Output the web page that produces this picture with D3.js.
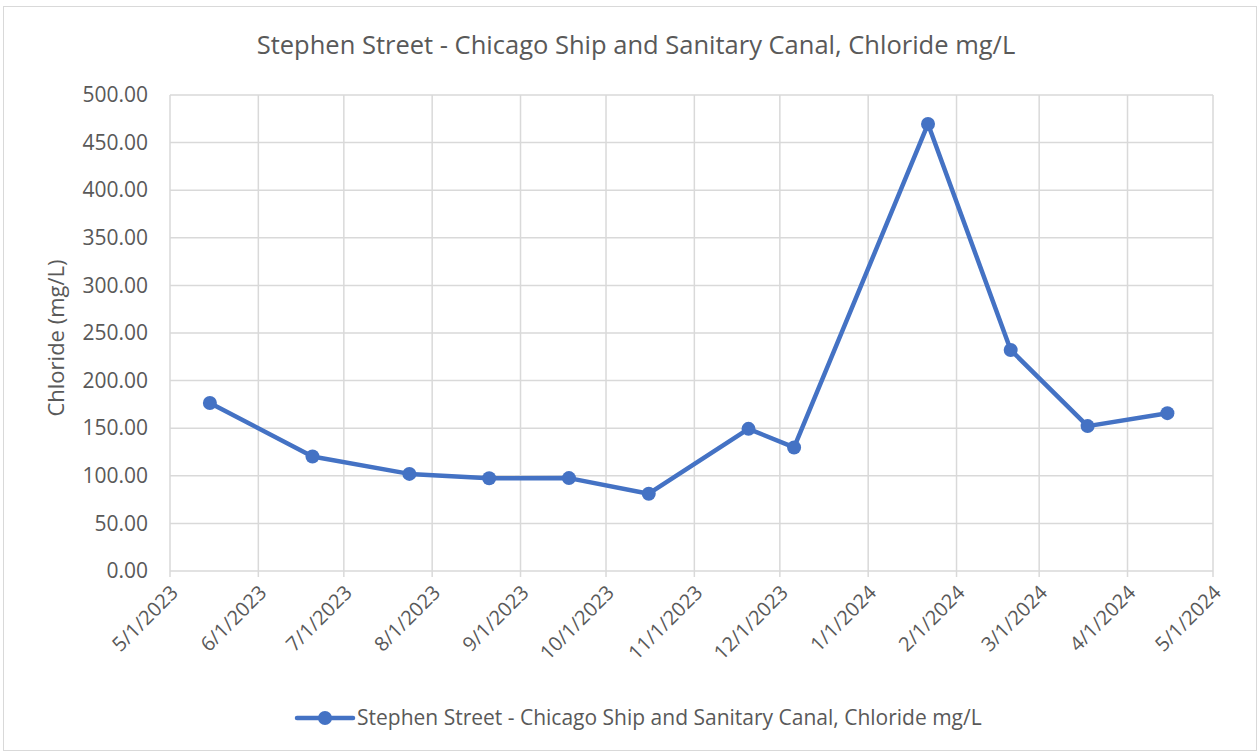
<!DOCTYPE html>
<html>
<head>
<meta charset="utf-8">
<script src="https://cdn.jsdelivr.net/npm/d3@7"></script>
<style>
  body { margin: 0; background: #fff; }
  text { font-family: "Open Sans", "Noto Sans", sans-serif; fill: #595959; }
</style>
</head>
<body>
<svg id="chart" width="1260" height="754"></svg>
<script>
var seriesName = "Stephen Street - Chicago Ship and Sanitary Canal, Chloride mg/L";
var sampleDates = ["2023-05-15", "2023-06-20", "2023-07-24", "2023-08-21", "2023-09-18", "2023-10-16",
                   "2023-11-20", "2023-12-06", "2024-01-22", "2024-02-20", "2024-03-18", "2024-04-15"];
var chloride = [176.5, 120.2, 102.0, 97.5, 97.6, 81.2, 149.3, 129.8, 469.6, 232.2, 152.2, 165.8];
var yTicks = [0, 50, 100, 150, 200, 250, 300, 350, 400, 450, 500];

var width = 1260;
var height = 754;
var plotLeft = 170, plotRight = 1213, plotTop = 95, plotBottom = 571;
var blue = "#4472C4";

var parse = d3.timeParse("%Y-%m-%d");
var data = sampleDates.map(function (d, i) { return { date: parse(d), value: chloride[i] }; });

var svg = d3.select("#chart");

// chart frame
svg.append("rect")
    .attr("x", 3.5).attr("y", 6.5)
    .attr("width", width - 7).attr("height", height - 10)
    .attr("fill", "#fff")
    .attr("stroke", "#d9d9d9");

var x = d3.scaleTime()
    .domain([new Date(2023, 4, 1), new Date(2024, 4, 1)])
    .range([plotLeft, plotRight]);

var y = d3.scaleLinear()
    .domain([0, 500])
    .range([plotBottom, plotTop]);

var monthTicks = d3.timeMonth.range(new Date(2023, 4, 1), new Date(2024, 4, 2));

// gridlines
svg.append("g")
    .selectAll("line")
    .data(yTicks)
    .enter().append("line")
    .attr("x1", plotLeft).attr("x2", plotRight)
    .attr("y1", function (d) { return y(d); })
    .attr("y2", function (d) { return y(d); })
    .attr("stroke", "#d9d9d9").attr("stroke-width", 1.5);

svg.append("g")
    .selectAll("line")
    .data(monthTicks)
    .enter().append("line")
    .attr("x1", function (d) { return x(d); })
    .attr("x2", function (d) { return x(d); })
    .attr("y1", plotTop).attr("y2", plotBottom + 6)
    .attr("stroke", "#d9d9d9").attr("stroke-width", 1.5);

// y axis labels
var yAxis = svg.append("g")
    .attr("transform", "translate(" + plotLeft + ",0)")
    .call(d3.axisLeft(y).tickValues(yTicks).tickSize(0).tickPadding(22)
        .tickFormat(d3.format(".2f")));
yAxis.select(".domain").remove();
yAxis.selectAll("text")
    .style("font-family", "'Open Sans', sans-serif")
    .style("font-size", "21px")
    .attr("fill", "#595959");

// x axis labels
var fmt = function (d) { return (d.getMonth() + 1) + "/" + d.getDate() + "/" + d.getFullYear(); };
var xAxis = svg.append("g")
    .attr("transform", "translate(0," + plotBottom + ")")
    .call(d3.axisBottom(x).tickValues(monthTicks).tickSize(0).tickFormat(fmt));
xAxis.select(".domain").remove();
xAxis.selectAll("text")
    .style("font-family", "'Open Sans', sans-serif")
    .style("font-size", "20px")
    .attr("fill", "#595959")
    .attr("text-anchor", "end")
    .attr("y", 0)
    .attr("dy", "0.35em")
    .attr("transform", "translate(4,18) rotate(-45)");

// title
svg.append("text")
    .attr("x", 636).attr("y", 54)
    .attr("text-anchor", "middle")
    .style("font-size", "25.5px")
    .text(seriesName);

// y axis title
svg.append("text")
    .attr("transform", "translate(64," + ((plotTop + plotBottom) / 2 + 5) + ") rotate(-90)")
    .attr("text-anchor", "middle")
    .style("font-size", "22px")
    .text("Chloride (mg/L)");

// line
var line = d3.line()
    .x(function (d) { return x(d.date); })
    .y(function (d) { return y(d.value); });

svg.append("path")
    .datum(data)
    .attr("d", line)
    .attr("fill", "none")
    .attr("stroke", blue)
    .attr("stroke-width", 4.5)
    .attr("stroke-linejoin", "round");

svg.append("g")
    .selectAll("circle")
    .data(data)
    .enter().append("circle")
    .attr("cx", function (d) { return x(d.date); })
    .attr("cy", function (d) { return y(d.value); })
    .attr("r", 7)
    .attr("fill", blue);

// legend
var legend = svg.append("g").attr("transform", "translate(297,718)");
legend.append("line")
    .attr("x1", 0).attr("x2", 56)
    .attr("stroke", blue).attr("stroke-width", 4.5).attr("stroke-linecap", "round");
legend.append("circle").attr("cx", 28).attr("r", 7).attr("fill", blue);
legend.append("text")
    .attr("x", 60).attr("dy", "0.35em")
    .style("font-size", "21px")
    .text(seriesName);
</script>
</body>
</html>
